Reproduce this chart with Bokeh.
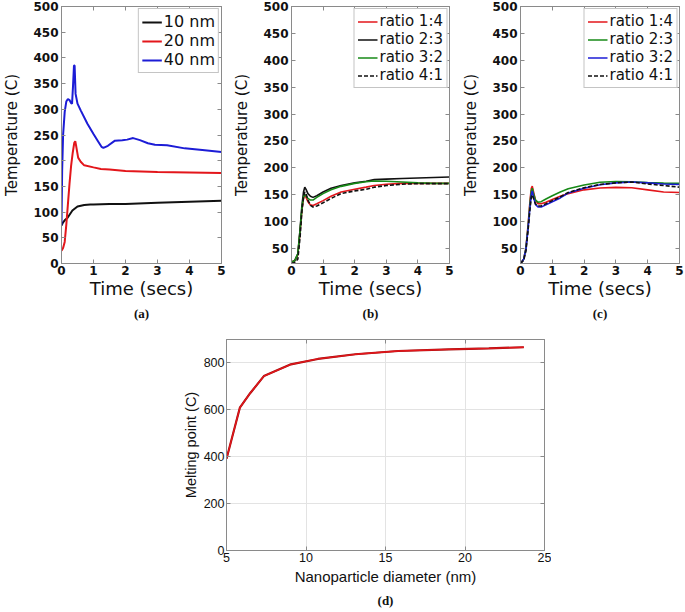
from bokeh.plotting import figure
from bokeh.models import LinearAxis, FixedTicker, Range1d, Spacer
from bokeh.layouts import column, row
from bokeh.embed import file_html
from bokeh.resources import INLINE

# ---------------- data ----------------
# (a) particle size
t_10 = [0, 0.05, 0.1, 0.19, 0.34, 0.5, 0.71, 0.9, 1.0, 1.5, 2.0, 3.0, 4.0, 5.0]
T_10 = [74, 80, 84, 89, 103, 111, 114, 115, 115, 116, 116, 118, 120, 122]

t_20 = [0, 0.05, 0.1, 0.15, 0.2, 0.25, 0.3, 0.35, 0.4, 0.43, 0.46, 0.52, 0.6, 0.71, 1.0, 1.23, 1.5, 2.0, 3.0, 4.0, 5.0]
T_20 = [25, 30, 42, 75, 115, 155, 190, 215, 235, 238, 228, 206, 198, 191, 187, 184, 183, 180, 178, 177, 176]

t_40 = [0, 0.02, 0.05, 0.1, 0.15, 0.2, 0.25, 0.3, 0.33, 0.36, 0.39, 0.41, 0.44, 0.5, 0.6, 0.81, 1.0, 1.13, 1.25, 1.31,
        1.45, 1.67, 1.9, 2.05, 2.24, 2.45, 2.7, 2.92, 3.3, 3.85, 4.4, 5.0]
T_40 = [75, 180, 250, 295, 315, 320, 318, 312, 311, 345, 385, 385, 330, 311, 298, 272, 252, 239, 227, 225,
        229, 239, 240, 241, 244, 240, 234, 231, 230, 224, 221, 217]

# (b) ratios
t_b = [0, 0.1, 0.2, 0.27, 0.33, 0.38, 0.42, 0.46, 0.52, 0.6, 0.68, 0.8, 1.0, 1.25, 1.57, 2.0, 2.36, 2.62, 3.0, 3.5, 4.0, 4.5, 5.0]
b_14 = [25, 27, 38, 80, 122, 143, 150, 145, 137, 131, 130, 133, 139, 147, 155, 160, 164, 167, 169.5, 171, 171, 171, 171]
b_23 = [25, 27, 40, 85, 130, 155, 164, 160, 152, 147, 145, 148, 155, 162, 167, 172, 175, 178, 179, 180, 181, 182, 183]
b_32 = [25, 27, 40, 82, 125, 145, 150, 148, 143, 140, 140, 145, 152, 159, 165.5, 171, 174, 175.5, 175, 173.5, 172, 171, 171]
b_41 = [22, 24, 30, 70, 120, 145, 155, 152, 140, 130, 127, 129, 135, 143, 152, 157, 160, 164, 167, 169.5, 170.5, 170.5, 170.5]

# (c) ratios
t_c = [0, 0.1, 0.17, 0.24, 0.3, 0.34, 0.37, 0.41, 0.47, 0.55, 0.65, 0.8, 1.0, 1.25, 1.5, 2.0, 2.5, 3.0, 3.5, 4.0, 4.5, 5.0]
c_14 = [22, 30, 50, 95, 140, 162, 166, 155, 140, 133, 133, 136, 141, 147, 152, 159, 162.5, 163.5, 163, 159, 155, 154]
c_23 = [22, 30, 50, 92, 135, 157, 162, 152, 140, 136, 137, 142, 148, 155, 161, 168, 173, 174.5, 174, 172.5, 171.5, 171]
c_32 = [22, 30, 48, 88, 128, 150, 157, 145, 132, 127, 127, 131, 137, 144, 153, 162, 168.5, 172, 173.5, 172, 170, 169]
c_41 = [22, 28, 45, 85, 125, 145, 150, 143, 133, 129, 129, 133, 139, 146, 154, 163, 169, 172, 173.5, 170, 167, 164]

# (d) melting point
diam = [5, 5.84, 6.5, 7.35, 9.05, 10.75, 13.1, 15.8, 19.0, 21.5, 23.7]
melt = [391, 609, 672, 744, 794, 817, 837, 851, 858, 862, 867]

x_ticks_top = [0, 1, 2, 3, 4, 5]
y_ticks_a = [0, 50, 100, 150, 200, 250, 300, 350, 400, 450, 500]
y_ticks_bc = [50, 100, 150, 200, 250, 300, 350, 400, 450, 500]
x_ticks_d = [5, 10, 15, 20, 25]
y_ticks_d = [0, 200, 400, 600, 800]

# ---------------- style ----------------
FRAME = "#8a8a8a"
RED = "#e3161b"
BLUE = "#1c1cd6"
GREEN = "#178a17"
BLACK = "#111111"
SANS = "DejaVu Sans"
ARIAL = "Liberation Sans"


def box_axes(p, xt, yt, font, tick_size, bold, grid=False):
    xa = p.below[0]
    ya = p.left[0]
    p.outline_line_color = FRAME
    p.outline_line_width = 1
    for ax in (xa, ya):
        ax.axis_line_color = FRAME
        ax.major_tick_line_color = FRAME
        ax.major_tick_in = 4
        ax.major_tick_out = 0
        ax.minor_tick_line_color = None
        ax.major_label_text_font = font
        ax.major_label_text_font_size = tick_size
        ax.major_label_text_font_style = "bold" if bold else "normal"
        ax.major_label_text_color = "#111111"
        ax.axis_label_text_font = font
        ax.axis_label_text_font_style = "normal"
        ax.axis_label_text_color = "#111111"
    xa.ticker = FixedTicker(ticks=xt)
    ya.ticker = FixedTicker(ticks=yt)
    xa.major_label_standoff = 2
    ya.major_label_standoff = 3
    # mirrored inner ticks (box on), labels hidden
    for loc, tk in (("right", yt), ("above", xt)):
        ax = LinearAxis(ticker=FixedTicker(ticks=tk), major_label_text_font_size="1px",
                        major_label_text_color=None, major_label_standoff=0,
                        major_tick_in=4, major_tick_out=0,
                        minor_tick_line_color=None, axis_line_color=FRAME,
                        major_tick_line_color=FRAME)
        p.add_layout(ax, loc)
    if grid:
        p.xgrid[0].ticker = FixedTicker(ticks=xt)
        p.ygrid[0].ticker = FixedTicker(ticks=yt)
        p.grid.grid_line_color = "#e3e3e3"
    else:
        p.grid.visible = False
    return xa, ya


def style_title(p, size="13px", standoff=5):
    p.title.align = "center"
    p.title.text_font = "Liberation Serif"
    p.title.text_font_style = "bold"
    p.title.text_font_size = size
    p.title.text_color = "#111111"
    p.title.standoff = standoff


def style_legend(p, fsize, lh):
    lg = p.legend[0]
    lg.location = "top_right"
    lg.label_text_font = SANS
    lg.label_text_font_size = fsize
    lg.label_text_color = "#111111"
    lg.glyph_width = 20
    lg.glyph_height = lh
    lg.label_height = lh
    lg.label_standoff = 2
    lg.spacing = 0
    lg.padding = 3
    lg.margin = 2
    lg.border_line_color = FRAME
    lg.background_fill_alpha = 1


def top_fig(title, width, border_right, ymin, yt):
    p = figure(width=width, height=329, x_range=Range1d(0, 5), y_range=Range1d(ymin, 500),
               output_backend="svg", toolbar_location=None, title=title, title_location="below",
               min_border_left=60, min_border_right=border_right, min_border_top=6,
               min_border_bottom=66)
    xa, ya = box_axes(p, x_ticks_top, yt, SANS, "12px", True)
    xa.axis_label = "Time (secs)"
    xa.axis_label_text_font_size = "18px"
    xa.axis_label_standoff = 0
    ya.axis_label = "Temperature (C)"
    ya.axis_label_text_font_size = "15px"
    ya.axis_label_standoff = 9
    style_title(p)
    return p


# (a)
pa = top_fig("(a)", 230, 9, 0, y_ticks_a)
pa.line(t_10, T_10, line_color=BLACK, line_width=2, legend_label="10 nm")
pa.line(t_20, T_20, line_color=RED, line_width=2, legend_label="20 nm")
pa.line(t_40, T_40, line_color=BLUE, line_width=2, legend_label="40 nm")
style_legend(pa, "16px", 16)

# (b)
pb = top_fig("(b)", 229, 10, 22, y_ticks_bc)
pb.line(t_b, b_14, line_color=RED, line_width=1.6, legend_label="ratio 1:4")
pb.line(t_b, b_23, line_color=BLACK, line_width=1.6, legend_label="ratio 2:3")
pb.line(t_b, b_32, line_color=GREEN, line_width=1.6, legend_label="ratio 3:2")
pb.line(t_b, b_41, line_color=BLACK, line_width=1.6, line_dash="4 2", legend_label="ratio 4:1")
style_legend(pb, "15px", 15)

# (c)
pc = top_fig("(c)", 226, 6, 22, y_ticks_bc)
pc.line(t_c, c_14, line_color=RED, line_width=1.6, legend_label="ratio 1:4")
pc.line(t_c, c_23, line_color=GREEN, line_width=1.6, legend_label="ratio 2:3")
pc.line(t_c, c_32, line_color=BLUE, line_width=1.6, legend_label="ratio 3:2")
pc.line(t_c, c_41, line_color=BLACK, line_width=1.6, line_dash="4 2", legend_label="ratio 4:1")
style_legend(pc, "15px", 15)

# (d)
pd_ = figure(width=374, height=283, x_range=Range1d(5, 25), y_range=Range1d(0, 900),
             output_backend="svg", toolbar_location=None, title="(d)", title_location="below",
             min_border_left=49, min_border_right=7, min_border_top=10, min_border_bottom=62)
xd, yd = box_axes(pd_, x_ticks_d, y_ticks_d, ARIAL, "12.5px", False, grid=True)
xd.axis_label = "Nanoparticle diameter (nm)"
xd.axis_label_text_font_size = "15px"
xd.axis_label_standoff = 3
yd.axis_label = "Melting point (C)"
yd.axis_label_text_font_size = "14.5px"
yd.axis_label_standoff = 2
yd.major_label_standoff = 2
style_title(pd_, "13px", 6)
pd_.line(diam, melt, line_color="#a01010", line_width=2.2)
pd_.line(diam, melt, line_color=RED, line_width=1.3)

layout = column(row(pa, pb, pc, spacing=0),
                row(Spacer(width=177, height=283), pd_, spacing=0), spacing=0)

open("out.html", "w").write(file_html(layout, INLINE))
